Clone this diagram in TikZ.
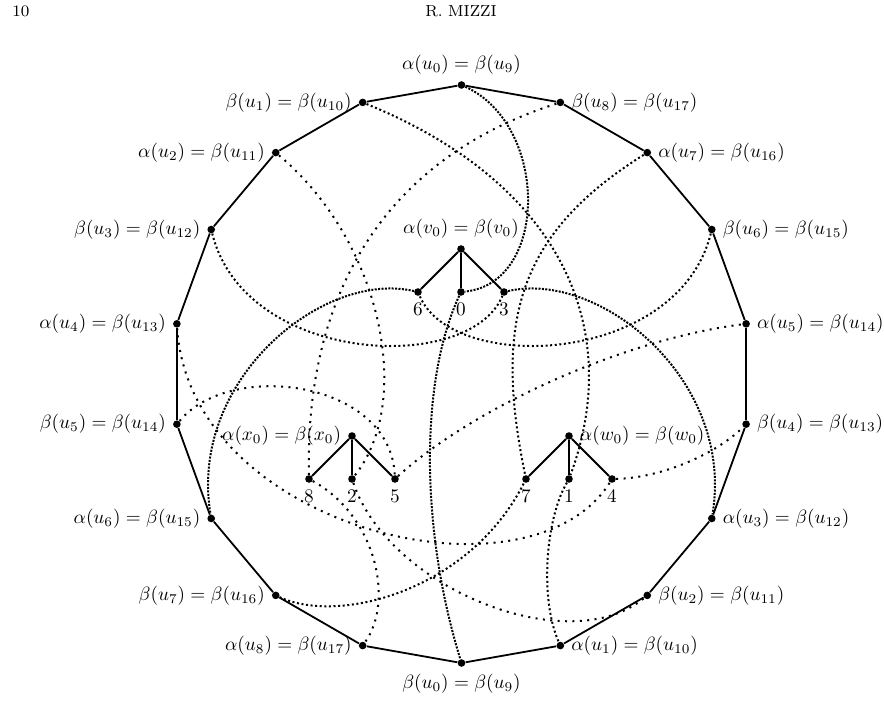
\documentclass[tikz,border=0pt]{standalone}
\usepackage{amsmath,amssymb}
\usepackage{tikz}
\usetikzlibrary{positioning,calc}

\begin{document}
\begin{tikzpicture}[
  x=0.5pt, y=-0.5pt,
  node distance=21.5pt and 21.5pt, on grid,
  label distance=0pt,
  every label/.style={scale=0.96},
  vtx/.style={circle, fill, inner sep=0pt, minimum size=3.8pt},
  side/.style={line width=0.9pt},
  link/.style={line width=1pt, dash pattern=on 1pt off 2.7pt},
  link mid/.style={line width=1pt, dash pattern=on 1pt off 1.3pt},
  link dense/.style={line width=1pt, dash pattern=on 1pt off 0.7pt}
]
\useasboundingbox (0,0) rectangle (884,711);

% running head
\node[anchor=base west, font=\footnotesize, inner sep=0pt] (pageno) at (12,17) {10};
\node[anchor=base, font=\footnotesize, inner sep=0pt] (head) at (461,17) {R. MIZZI};

% corners of the 18-gon
\coordinate (c) at (461.5,374);
\node[vtx, label=above:{$\alpha(u_0)=\beta(u_9)$}] (p0) at ($(c)+(-90:289)$) {};
\foreach \k/\txt in {1/\beta(u_1)=\beta(u_{10}), 2/\alpha(u_2)=\beta(u_{11}),
    3/\beta(u_3)=\beta(u_{12}), 4/\alpha(u_4)=\beta(u_{13}), 5/\beta(u_5)=\beta(u_{14}),
    6/\alpha(u_6)=\beta(u_{15}), 7/\beta(u_7)=\beta(u_{16}), 8/\alpha(u_8)=\beta(u_{17})}
  \node[vtx, label=left:{$\txt$}] (p\k) at ($(c)+(-90-20*\k:289)$) {};
\node[vtx, label=below:{$\beta(u_0)=\beta(u_9)$}] (p9) at ($(c)+(90:289)$) {};
\foreach \k/\txt in {10/\alpha(u_1)=\beta(u_{10}), 11/\beta(u_2)=\beta(u_{11}),
    12/\alpha(u_3)=\beta(u_{12}), 13/\beta(u_4)=\beta(u_{13}), 14/\alpha(u_5)=\beta(u_{14}),
    15/\beta(u_6)=\beta(u_{15}), 16/\alpha(u_7)=\beta(u_{16}), 17/\beta(u_8)=\beta(u_{17})}
  \node[vtx, label=right:{$\txt$}] (p\k) at ($(c)+(-90-20*\k:289)$) {};

\foreach \k [remember=\k as \j (initially 17)] in {0,...,17}
  \draw[side] (p\j) -- (p\k);

% the three small trees
\node[vtx, label=above:{$\alpha(v_0)=\beta(v_0)$}] (v0) at (461,249) {};
\node[vtx, below left=of v0, label=below:6] (l6) {};
\node[vtx, below=of v0, label=below:0] (l0) {};
\node[vtx, below right=of v0, label=below:3] (l3) {};

\node[vtx, label=left:{$\alpha(x_0)=\beta(x_0)$}] (x0) at (352,436) {};
\node[vtx, below left=of x0, label=below:8] (l8) {};
\node[vtx, below=of x0, label=below:2] (l2) {};
\node[vtx, below right=of x0, label=below:5] (l5) {};

\node[vtx, label=right:{$\alpha(w_0)=\beta(w_0)$}] (w0) at (569,436) {};
\node[vtx, below left=of w0, label=below:7] (l7) {};
\node[vtx, below=of w0, label=below:1] (l1) {};
\node[vtx, below right=of w0, label=below:4] (l4) {};

\foreach \r/\a/\b/\c in {v0/l6/l0/l3, x0/l8/l2/l5, w0/l7/l1/l4}
  \draw[side] (\r) -- (\a) (\r) -- (\b) (\r) -- (\c);

% dotted links from the leaves to the corners
\draw[link dense] (p0) .. controls (549,125) and (549,283) .. (l0);
\draw[link dense] (l0) .. controls (420,380) and (420,528) .. (p9);
\draw[link mid] (p3) .. controls (245,365) and (470,375) .. (l3);
\draw[link mid] (p15) .. controls (678,365) and (453,375) .. (l6);
\draw[link dense] (l3) .. controls (600,270) and (735,380) .. (p12);
\draw[link dense] (l6) .. controls (323,270) and (188,380) .. (p6);
\draw[link mid] (p1) .. controls (563,184) and (624,330) .. (l1);
\draw[link mid] (p16) .. controls (519,233) and (493,320) .. (l7);
\draw[link mid] (l1) .. controls (545,520) and (540,600) .. (p10);
\draw[link mid] (p7) .. controls (340,625) and (470,590) .. (l7);
\draw[link] (l4) .. controls (660,478) and (715,455) .. (p13);
\draw[link] (p4) .. controls (190,530) and (530,610) .. (l4);
\draw[link] (p5) .. controls (230,360) and (390,380) .. (l5);
\draw[link] (l5) .. controls (470,410) and (620,340) .. (p14);
\draw[link] (l8) .. controls (305,300) and (380,160) .. (p17);
\draw[link] (l8) .. controls (375,515) and (395,600) .. (p8);
\draw[link] (p2) .. controls (380,240) and (415,400) .. (l2);
\draw[link] (l2) .. controls (390,590) and (570,660) .. (p11);
\end{tikzpicture}
\end{document}
